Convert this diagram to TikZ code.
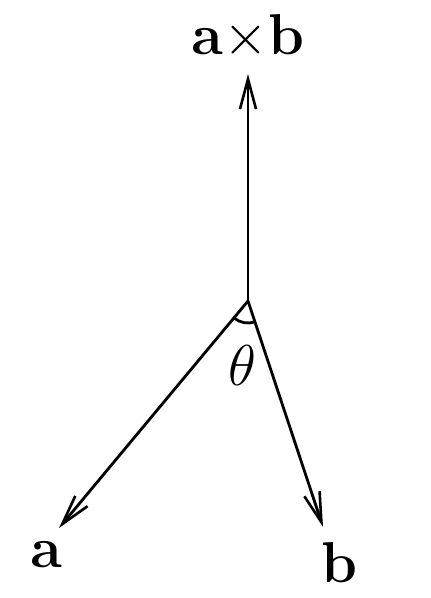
\documentclass[tikz,border=0pt]{standalone}
\usetikzlibrary{arrows.meta,calc}
\begin{document}
\begin{tikzpicture}[x=0.25pt,y=-0.25pt,
  vec/.style={line width=0.7pt,-{Straight Barb[length=7.5pt,width=4pt,line width=0.65pt]}},
  lab/.style={anchor=base,inner sep=0pt,font=\fontsize{14.4}{17}\selectfont}]
\useasboundingbox (0,0) rectangle (430,598);
\coordinate (O) at (248,301);
\coordinate (U) at (248,74);
\coordinate (A) at (59,528);
\coordinate (B) at (323,527);
\draw[vec] (O) -- (U);
\draw[vec] (O) -- (A);
\draw[vec] (O) -- (B);
\draw[line width=0.7pt] ($(O)!5.5pt!(A)$) arc[start angle=-129.8,end angle=-71.6,radius=5.5pt];
\node[lab] (axb) at (248,55) {$\mathbf{a}{\times}\mathbf{b}$};
\node[lab] (la) at (46,567) {$\mathbf{a}$};
\node[lab] (lb) at (339,582) {$\mathbf{b}$};
\node[lab] (th) at (242,385) {$\theta$};
\end{tikzpicture}
\end{document}
